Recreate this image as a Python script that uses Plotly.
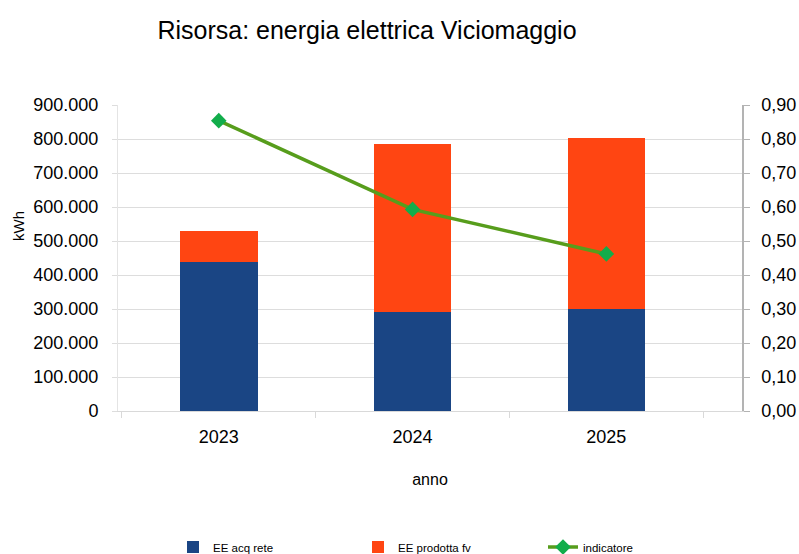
import plotly.graph_objects as go

years = ["2023", "2024", "2025"]
ee_acq_rete = [439000, 292000, 301000]
ee_prodotta_fv = [89000, 492000, 502000]
indicatore = [0.854, 0.593, 0.462]

font = "Liberation Sans, Arial, sans-serif"

fig = go.Figure()
fig.add_trace(go.Bar(x=years, y=ee_acq_rete, name="EE acq rete",
                     marker=dict(color="#1a4584", line=dict(width=0)), width=0.4))
fig.add_trace(go.Bar(x=years, y=ee_prodotta_fv, name="EE prodotta fv",
                     marker=dict(color="#ff4512", line=dict(width=0)), width=0.4))
fig.add_trace(go.Scatter(x=years, y=indicatore, name="indicatore", yaxis="y2",
                         mode="lines+markers",
                         line=dict(color="#579d1c", width=3.5),
                         marker=dict(symbol="diamond", size=12, color="#12ad4b")))

L, R, T, B = 118, 57, 105, 143
fig.update_layout(
    width=799, height=554,
    barmode="stack",
    separators=",.",
    paper_bgcolor="white", plot_bgcolor="white",
    font=dict(family=font, color="black"),
    margin=dict(l=L, r=R, t=T, b=B, autoexpand=False),
    title=dict(text="Risorsa: energia elettrica Viciomaggio", x=367/799, xanchor="center",
               y=1-30/554, yanchor="middle", font=dict(size=25, family=font)),
    xaxis=dict(type="category", range=[-0.52, 2.70], showline=True, linecolor="#d9d9d9",
               ticks="outside", tickson="boundaries", ticklen=6, tickcolor="#d9d9d9",
               tickfont=dict(size=18), showgrid=False, automargin=False,
               ticklabelstandoff=9,
               title=dict(text="anno", font=dict(size=16), standoff=28)),
    yaxis=dict(range=[0, 900000], dtick=100000, tickformat=",d",
               showgrid=True, gridcolor="#dddddd", gridwidth=1,
               showline=True, linecolor="#e4e4e4", automargin=False,
               ticks="outside", ticklen=5, tickcolor="#dddddd",
               ticklabelstandoff=10,
               tickfont=dict(size=18), zeroline=False),
    yaxis2=dict(range=[0, 0.9], dtick=0.1, tickformat=".2f", overlaying="y", side="right",
                showgrid=False, showline=True, linecolor="#b3b3b3", linewidth=1.5,
                ticks="outside", ticklen=6, tickcolor="#b3b3b3", automargin=False,
                ticklabelstandoff=8,
                tickfont=dict(size=18), zeroline=False),
    legend=dict(orientation="h", x=173/799, xanchor="left", y=7/554, yanchor="middle",
                xref="container", yref="container",
                font=dict(size=11.5), entrywidth=140, traceorder="normal"),
    annotations=[dict(text="kWh", x=(18-L)/(799-L-R), y=(554-B-226)/(554-T-B),
                      xref="paper", yref="paper",
                      showarrow=False, textangle=-90, font=dict(size=15, family=font),
                      xanchor="center", yanchor="middle")],
)

fig.write_html("out.html", config={"displayModeBar": False},
               post_script="document.body.style.margin='0';")
